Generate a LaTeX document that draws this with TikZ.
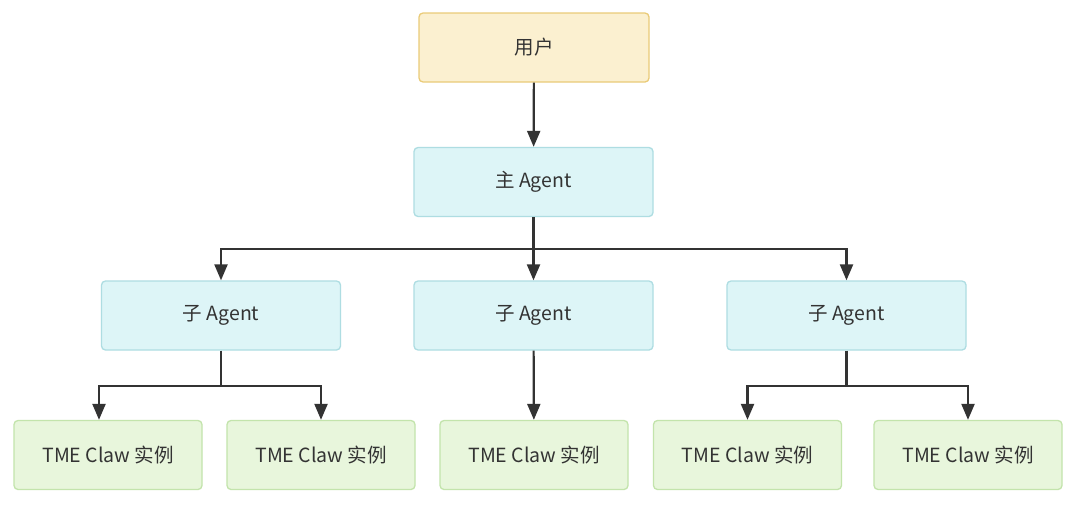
\documentclass[tikz,border=0pt]{standalone}
\usepackage{fontspec}
\setmainfont{Noto Sans CJK SC}
\usepackage{xcolor}
\usetikzlibrary{arrows.meta,positioning}
\definecolor{userfill}{HTML}{FBF0D0}
\definecolor{userline}{HTML}{EACB78}
\definecolor{agentfill}{HTML}{DDF5F7}
\definecolor{agentline}{HTML}{AEDDE2}
\definecolor{instfill}{HTML}{E8F6DC}
\definecolor{instline}{HTML}{C3E4AC}
\definecolor{textgray}{HTML}{333333}
\definecolor{linegray}{HTML}{333333}

\begin{document}
\begin{tikzpicture}[x=1pt,y=-1pt,>={Triangle[length=16pt,width=13pt]},
  box/.style={draw,rounded corners=4pt,line width=1.3pt,minimum height=69pt,
    text=textgray,font=\fontsize{19.5}{22}\selectfont},
  userbox/.style={box,fill=userfill,draw=userline,minimum width=230pt},
  agentbox/.style={box,fill=agentfill,draw=agentline,minimum width=239pt},
  instbox/.style={box,fill=instfill,draw=instline,minimum width=188pt},
  link/.style={->,draw=linegray,line width=2.2pt}]
\useasboundingbox[fill=white](0,0)rectangle(1080,509);
% nodes
\node[userbox](user) at (534,47.5){用户};
\node[agentbox](main) at (533.5,182){主 Agent};
\node[agentbox](sub1) at (221,315.5){子 Agent};
\node[agentbox](sub2) at (533.5,315.5){子 Agent};
\node[agentbox](sub3) at (846.5,315.5){子 Agent};
\node[instbox](inst1) at (108,455){TME Claw 实例};
\node[instbox](inst2) at (321,455){TME Claw 实例};
\node[instbox](inst3) at (534,455){TME Claw 实例};
\node[instbox](inst4) at (747.5,455){TME Claw 实例};
\node[instbox](inst5) at (968,455){TME Claw 实例};
% junctions
\coordinate(jmain) at (main.south|-0,249);
\coordinate(jsub1) at (sub1.south|-0,386);
\coordinate(jsub3) at (sub3.south|-0,386);
% links
\draw[link](user)--(main);
\draw[link,-](main.south)--(jmain);
\draw[link](jmain)-|(sub1.north);
\draw[link](jmain)--(sub2.north);
\draw[link](jmain)-|(sub3.north);
\draw[link,-](sub1.south)--(jsub1);
\draw[link](jsub1)-|([xshift=-9pt]inst1.north);
\draw[link](jsub1)-|(inst2.north);
\draw[link](sub2)--(inst3);
\draw[link,-](sub3.south)--(jsub3);
\draw[link](jsub3)-|(inst4.north);
\draw[link](jsub3)-|(inst5.north);
\end{tikzpicture}
\end{document}
